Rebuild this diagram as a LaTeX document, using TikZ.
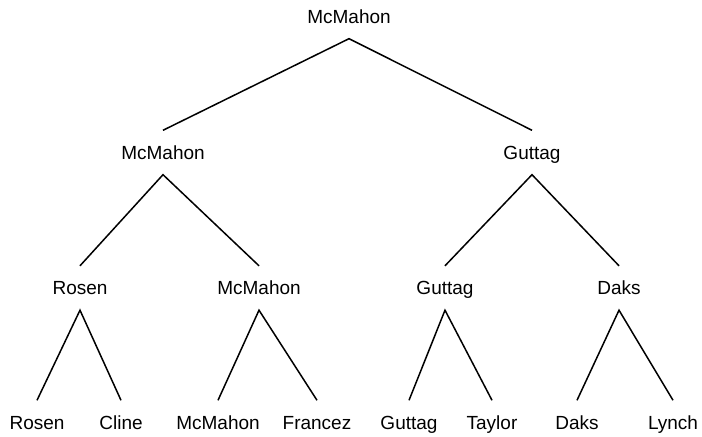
\documentclass[tikz,border=0pt]{standalone}
\usepackage{fontspec}
\setmainfont{Liberation Sans}
\usepackage{tikz}
\usetikzlibrary{positioning}

\begin{document}
\begin{tikzpicture}[
  x=0.5pt, y=-0.5pt,
  every node/.style={font=\fontsize{9.5}{11}\selectfont},
  player/.style={
    inner xsep=0pt, inner ysep=7.5pt,
    text height=6.8pt, text depth=0pt
  },
  edge/.style={line width=0.75pt, line join=miter}
]
  \useasboundingbox (0,7) rectangle (702,444);

  % Vincitore
  \node[player] (top) at (349,23.5) {McMahon};

  % Semifinali
  \node[player] (semiL) at (163,159.5) {McMahon};
  \node[player] (semiR) at (532,159.5) {Guttag};

  % Quarti
  \node[player] (qfA) at (80,295)  {Rosen};
  \node[player] (qfB) at (259,295) {McMahon};
  \node[player] (qfC) at (445,295) {Guttag};
  \node[player] (qfD) at (619,295) {Daks};

  % Giocatori iniziali
  \node[player] (rosen)   at (37,429.5)  {Rosen};
  \node[player] (cline)   at (121,429.5) {Cline};
  \node[player] (mcmahon) at (218,429.5) {McMahon};
  \node[player] (francez) at (317,429.5) {Francez};
  \node[player] (guttag)  at (409,429.5) {Guttag};
  \node[player] (taylor)  at (492,429.5) {Taylor};
  \node[player] (daks)    at (577,429.5) {Daks};
  \node[player] (lynch)   at (673,429.5) {Lynch};

  % Rami
  \draw[edge] (semiL.north) -- (top.south) -- (semiR.north);
  \draw[edge] (qfA.north) -- (semiL.south) -- (qfB.north);
  \draw[edge] (qfC.north) -- (semiR.south) -- (qfD.north);
  \draw[edge] (rosen.north) -- (qfA.south) -- (cline.north);
  \draw[edge] (mcmahon.north) -- (qfB.south) -- (francez.north);
  \draw[edge] (guttag.north) -- (qfC.south) -- (taylor.north);
  \draw[edge] (daks.north) -- (qfD.south) -- (lynch.north);

\end{tikzpicture}
\end{document}
